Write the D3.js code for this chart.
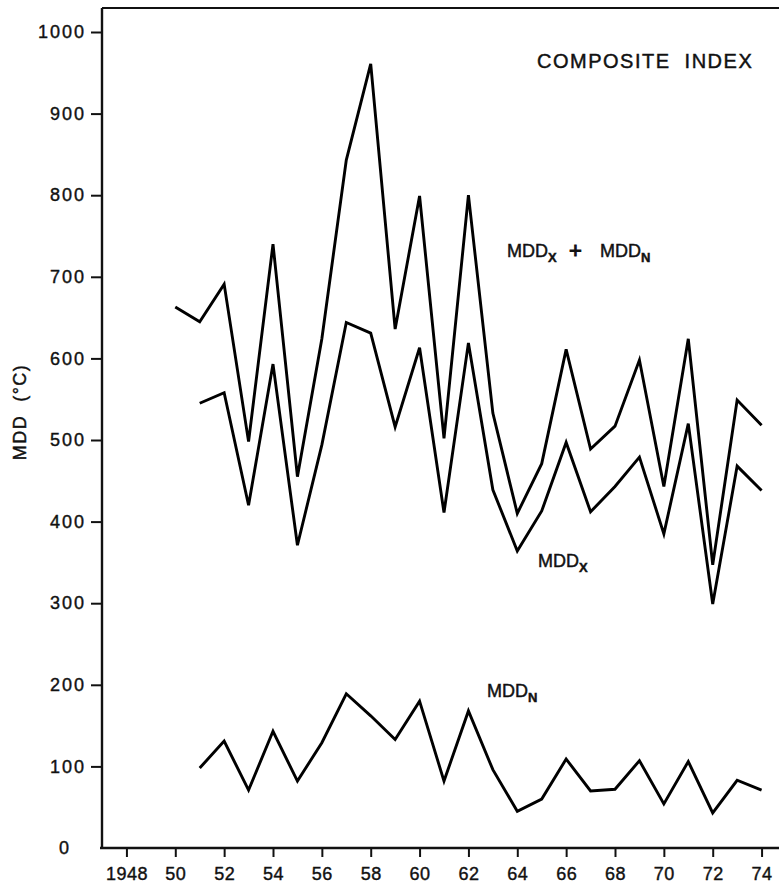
<!DOCTYPE html>
<html>
<head>
<meta charset="UTF-8">
<title>Composite index MDD</title>
<style>
  body { margin: 0; background: #fff; }
  svg { display: block; }
  .tick text { font-family: "Liberation Sans", Arial, sans-serif; fill: #111; stroke: #111; stroke-width: 0.4px; }
  .lbl { font-family: "Liberation Sans", Arial, sans-serif; fill: #111; stroke: #111; stroke-width: 0.45px; }
</style>
</head>
<body>
<svg></svg>
<script src="https://d3js.org/d3.v7.min.js"></script>
<script>

let width = 779, height = 883;

// values
let years  = [1950, 1951, 1952, 1953, 1954, 1955, 1956, 1957, 1958, 1959, 1960, 1961, 1962,
              1963, 1964, 1965, 1966, 1967, 1968, 1969, 1970, 1971, 1972, 1973, 1974];
let mddSum = [663, 645, 691, 498, 740, 455, 624, 843, 961, 636, 799, 502, 800,
              533, 410, 471, 611, 489, 517, 598, 443, 624, 347, 549, 518];
let mddX   = [null, 545, 558, 420, 593, 371, 494, 644, 631, 516, 613, 411, 619,
              439, 364, 413, 497, 412, 443, 479, 385, 520, 299, 468, 438];
let mddN   = [null, 98, 131, 71, 143, 82, 129, 189, 162, 133, 180, 82, 168,
              96, 45, 60, 109, 70, 72, 107, 54, 106, 43, 83, 71];

let xTicks = [1948, 1950, 1952, 1954, 1956, 1958, 1960, 1962, 1964, 1966, 1968, 1970, 1972, 1974];
let yTicks = [0, 100, 200, 300, 400, 500, 600, 700, 800, 900, 1000];

let svg = d3.select("svg")
    .attr("width", width)
    .attr("height", height);

let x = d3.scaleLinear().domain([1947, 1975]).range([102, 786]);
let y = d3.scaleLinear().domain([0, 1000]).range([848, 32]);

// frame: top line
svg.append("line")
    .attr("x1", x(1947)).attr("x2", width)
    .attr("y1", 8).attr("y2", 8)
    .attr("stroke", "#111").attr("stroke-width", 2);

// y axis
let yAxis = svg.append("g")
    .attr("transform", "translate(" + x(1947) + ",0)")
    .call(d3.axisLeft(y).tickValues(yTicks).tickSize(11).tickPadding(5).tickFormat(d3.format("d")));
yAxis.select(".domain").remove();
yAxis.selectAll(".tick line").attr("stroke", "#111").attr("stroke-width", 2);
yAxis.selectAll(".tick text")
    .style("font-size", "18px")
    .style("letter-spacing", "2px");
// the 0 sits in the corner without a tick
yAxis.selectAll(".tick").filter(d => d === 0).each(function () {
    d3.select(this).select("line").remove();
    d3.select(this).select("text").attr("x", -31);
});

svg.append("line")
    .attr("x1", x(1947)).attr("x2", x(1947))
    .attr("y1", 8).attr("y2", y(0))
    .attr("stroke", "#111").attr("stroke-width", 2.4);

// x axis
let xAxis = svg.append("g")
    .attr("transform", "translate(0," + y(0) + ")")
    .call(d3.axisBottom(x).tickValues(xTicks).tickSize(9).tickPadding(0)
        .tickFormat(d => d === 1948 ? "1948" : String(d).slice(2)));
xAxis.select(".domain").remove();
xAxis.selectAll(".tick line").attr("stroke", "#111").attr("stroke-width", 2);
xAxis.selectAll(".tick text")
    .attr("y", 32).attr("dy", 0)
    .style("font-size", "18px")
    .style("letter-spacing", "0.5px");

svg.append("line")
    .attr("x1", x(1947) - 2).attr("x2", width)
    .attr("y1", y(0)).attr("y2", y(0))
    .attr("stroke", "#111").attr("stroke-width", 2.4);

// series
let series = [mddSum, mddX, mddN];
let line = d3.line()
    .defined(d => d[1] !== null)
    .x(d => x(d[0]))
    .y(d => y(d[1]));

svg.append("g")
    .selectAll("path")
    .data(series)
    .enter()
    .append("path")
    .attr("fill", "none")
    .attr("stroke", "#000")
    .attr("stroke-width", 2.9)
    .attr("stroke-linejoin", "miter")
    .attr("d", s => line(years.map((yr, i) => [yr, s[i]])));

// labels
function subLabel(px, py, main, sub) {
    let t = svg.append("text")
        .attr("class", "lbl")
        .attr("x", px).attr("y", py)
        .style("font-size", "18px");
    t.append("tspan").text(main);
    t.append("tspan")
        .attr("dy", 5)
        .style("font-size", "13px")
        .style("font-weight", "bold")
        .text(sub);
    return t;
}

svg.append("text")
    .attr("class", "lbl")
    .attr("x", 537).attr("y", 68)
    .style("font-size", "20px")
    .style("letter-spacing", "1.5px")
    .text("COMPOSITE\u00a0\u00a0INDEX");

subLabel(507, 257, "MDD", "X");
svg.append("text")
    .attr("class", "lbl")
    .attr("x", 569).attr("y", 258)
    .style("font-size", "22px")
    .style("stroke-width", "1px")
    .text("+");
subLabel(600, 257, "MDD", "N");

subLabel(538, 567, "MDD", "X");
subLabel(487, 697, "MDD", "N");

svg.append("text")
    .attr("class", "lbl")
    .attr("transform", "translate(26,412) rotate(-90)")
    .attr("text-anchor", "middle")
    .style("font-size", "18px")
    .style("letter-spacing", "1.5px")
    .text("MDD\u00a0\u00a0(°C)");

</script>
</body>
</html>
